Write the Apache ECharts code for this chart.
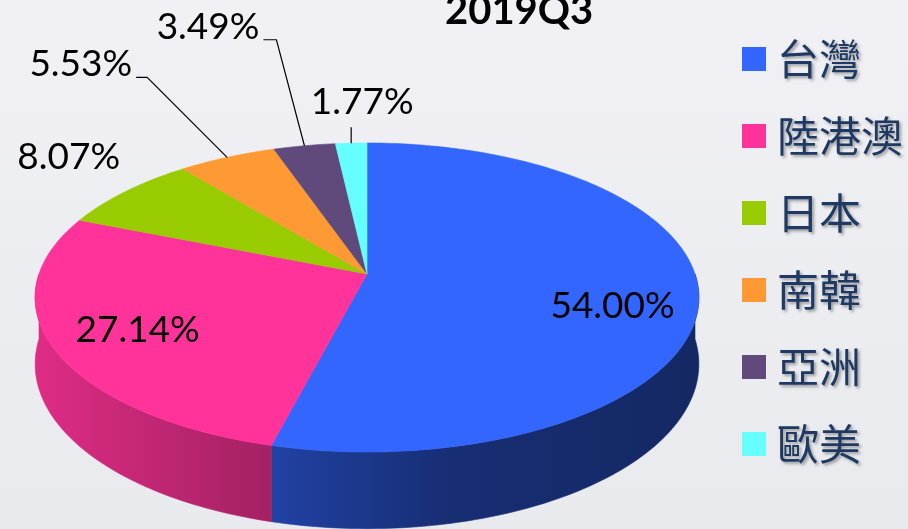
<!DOCTYPE html>
<html>
<head>
<meta charset="utf-8">
<script src="https://cdn.jsdelivr.net/npm/echarts@6/dist/echarts.min.js"></script>
<style>
  html, body { margin: 0; padding: 0; }
  #chart { width: 908px; height: 529px; }
</style>
</head>
<body>
<div id="chart"></div>
<script>
// ---- data ----
const title = '2019Q3';
const categories = ['台灣', '陸港澳', '日本', '南韓', '亞洲', '歐美'];
const shares = [54.00, 27.14, 8.07, 5.53, 3.49, 1.77];
const colors = ['#3366FF', '#FF3399', '#99CC00', '#FF9933', '#604A7B', '#66FFFF'];

// ---- layout / style (not data) ----
const G = { cx: 367, cy: 274, rx: 328, ry: 109.3, k: 0.152, depth: 65 };
const labelLayout = [
  { mode: 'inside', r: 0.72, dx: 8, dy: 18 },
  { mode: 'inside', r: 0.70, dx: -14, dy: 6 },
  { mode: 'free', dx: -57, dy: -34 },
  { mode: 'elbow', ex: -80, ey: -80, tail: 11, ty: -13 },
  { mode: 'elbow', ex: -28, ey: -106, tail: 13, ty: -13 },
  { mode: 'up', len: 16, tx: 11, ty: -25 }
];
const LABEL_FONT = { fontFamily: 'Lato', fontSize: 37, fill: '#000' };

const total = shares.reduce((a, b) => a + b, 0);

function proj(theta, r, h) {
  const u = r * Math.sin(theta);
  const v = -r * Math.cos(theta);
  const d = 1 - G.k * v;
  return [G.cx + G.rx * u / d, (G.cy + h + G.ry * v) / d];
}

function shade(hex, f) {
  const n = parseInt(hex.slice(1), 16);
  const r = Math.round(((n >> 16) & 255) * f);
  const g = Math.round(((n >> 8) & 255) * f);
  const b = Math.round((n & 255) * f);
  return 'rgb(' + r + ',' + g + ',' + b + ')';
}

function arcPts(a0, a1, r, h) {
  const pts = [];
  const n = Math.max(4, Math.ceil((a1 - a0) / (Math.PI / 180)));
  for (let j = 0; j <= n; j++) {
    pts.push(proj(a0 + (a1 - a0) * j / n, r, h));
  }
  return pts;
}

function renderItem(params, api) {
  const i = params.seriesIndex;
  let before = 0;
  for (let j = 0; j < i; j++) before += shares[j];
  const start = before / total * Math.PI * 2;
  const end = start + api.value(0) / total * Math.PI * 2;
  const mid = (start + end) / 2;
  const color = colors[i];
  const children = [];

  // front side wall
  const w0 = Math.max(start, Math.PI / 2);
  const w1 = Math.min(end, Math.PI * 1.5);
  if (w1 > w0) {
    const top = arcPts(w0, w1, 1, 0);
    const bot = arcPts(w0, w1, 1, G.depth).reverse();
    const grad = new echarts.graphic.LinearGradient(35, 0, 700, 0, [
      { offset: 0, color: shade(color, 0.87) },
      { offset: 0.36, color: shade(color, 0.64) },
      { offset: 0.63, color: shade(color, 0.45) },
      { offset: 1, color: shade(color, 0.39) }
    ], true);
    children.push({
      type: 'polygon',
      shape: { points: top.concat(bot) },
      style: { fill: grad, stroke: grad, lineWidth: 0.6 }
    });
  }

  // top face
  const face = [proj(0, 0, 0)].concat(arcPts(start, end, 1, 0));
  children.push({
    type: 'polygon',
    shape: { points: face },
    style: { fill: color, stroke: color, lineWidth: 0.6 }
  });

  // label
  const L = labelLayout[i];
  const txt = api.value(0).toFixed(2) + '%';
  const edge = proj(mid, 1, 0);
  if (L.mode === 'inside') {
    const p = proj(mid, L.r, 0);
    children.push({ type: 'text', x: p[0] + L.dx, y: p[1] + L.dy,
      style: Object.assign({ text: txt, align: 'center', verticalAlign: 'middle' }, LABEL_FONT) });
  } else if (L.mode === 'free') {
    children.push({ type: 'text', x: edge[0] + L.dx, y: edge[1] + L.dy,
      style: Object.assign({ text: txt, align: 'center', verticalAlign: 'middle' }, LABEL_FONT) });
  } else if (L.mode === 'elbow') {
    const b = [edge[0] + L.ex, edge[1] + L.ey];
    const t = [b[0] - L.tail, b[1]];
    children.push({ type: 'polyline', shape: { points: [edge, b, t] },
      style: { stroke: '#000', lineWidth: 1.2, fill: null } });
    children.push({ type: 'text', x: t[0] - 4, y: b[1] + L.ty,
      style: Object.assign({ text: txt, align: 'right', verticalAlign: 'middle' }, LABEL_FONT) });
  } else if (L.mode === 'up') {
    const t = [edge[0], edge[1] - L.len];
    children.push({ type: 'polyline', shape: { points: [edge, t] },
      style: { stroke: '#000', lineWidth: 1.2, fill: null } });
    children.push({ type: 'text', x: t[0] + L.tx, y: t[1] + L.ty,
      style: Object.assign({ text: txt, align: 'center', verticalAlign: 'middle' }, LABEL_FONT) });
  }
  return { type: 'group', children: children };
}

const chart = echarts.init(document.getElementById('chart'), null, { renderer: 'canvas' });
chart.setOption({
  animation: false,
  backgroundColor: new echarts.graphic.LinearGradient(0, 0, 0, 1, [
    { offset: 0, color: '#F1F1F5' },
    { offset: 1, color: '#E9EAEE' }
  ]),
  title: {
    text: title,
    left: 445,
    top: -9,
    padding: 0,
    textStyle: { fontFamily: 'Lato', fontWeight: 'bold', fontSize: 40, color: '#000' }
  },
  legend: {
    orient: 'vertical',
    left: 742,
    top: 35,
    padding: 0,
    itemWidth: 24,
    itemHeight: 24,
    itemGap: 29,
    icon: 'rect',
    data: categories,
    textStyle: {
      fontFamily: 'Noto Sans CJK TC',
      fontSize: 42,
      lineHeight: 48,
      color: '#1F3A62',
      padding: [0, 0, 0, 6],
      textShadowColor: 'rgba(0,0,0,0.35)',
      textShadowBlur: 3,
      textShadowOffsetX: 2,
      textShadowOffsetY: 2
    }
  },
  series: categories.map((name, i) => ({
    type: 'custom',
    name: name,
    coordinateSystem: 'none',
    itemStyle: { color: colors[i] },
    renderItem: renderItem,
    data: [shares[i]]
  }))
});
</script>
</body>
</html>
